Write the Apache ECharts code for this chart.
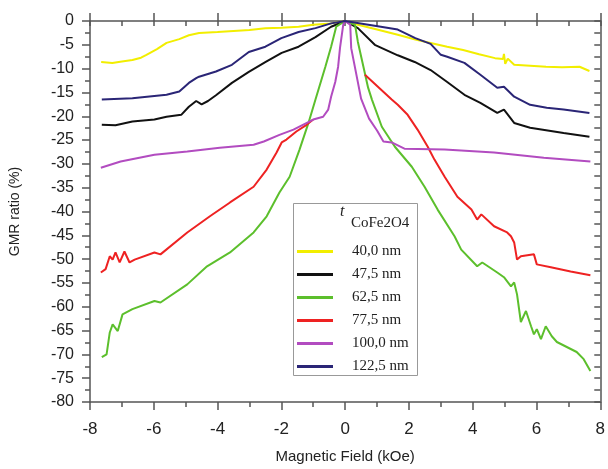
<!DOCTYPE html>
<html>
<head>
<meta charset="utf-8">
<script src="https://cdn.jsdelivr.net/npm/echarts@6/dist/echarts.min.js"></script>
<style>html,body{margin:0;padding:0;background:#fff}#c{width:608px;height:469px}</style>
</head>
<body>
<div id="c"></div>
<script>
var seriesNames = ['40,0 nm', '47,5 nm', '62,5 nm', '77,5 nm', '100,0 nm', '122,5 nm'];
var xTicks = [-8, -6, -4, -2, 0, 2, 4, 6, 8];
var yTicks = [0, -5, -10, -15, -20, -25, -30, -35, -40, -45, -50, -55, -60, -65, -70, -75, -80];

var yellow40 = [[-7.65,-8.6],[-7.3,-8.8],[-7.0,-8.5],[-6.67,-8.2],[-6.4,-7.7],[-6.23,-7.1],[-5.9,-5.9],[-5.6,-4.6],[-5.2,-3.8],[-4.9,-3.0],[-4.58,-2.5],[-4.0,-2.3],[-3.5,-2.1],[-3.0,-1.9],[-2.5,-1.5],[-2.0,-1.4],[-1.46,-1.2],[-1.0,-0.8],[-0.44,-0.5],[0,0],[0.4,-0.8],[1.0,-1.8],[1.65,-2.9],[2.2,-3.9],[2.68,-4.6],[3.2,-5.4],[3.7,-6.1],[4.2,-7.0],[4.7,-7.8],[4.95,-8.0],[4.98,-6.9],[5.02,-9.0],[5.1,-7.9],[5.3,-9.2],[5.8,-9.4],[6.3,-9.6],[6.8,-9.7],[7.35,-9.6],[7.66,-10.5]];
var black47 = [[-7.63,-21.8],[-7.2,-21.9],[-6.67,-21.1],[-5.98,-20.7],[-5.6,-20.1],[-5.14,-19.7],[-4.9,-18.0],[-4.67,-16.8],[-4.5,-17.5],[-4.3,-16.8],[-4.05,-15.6],[-3.55,-13.0],[-3.02,-10.7],[-2.49,-8.6],[-1.99,-6.7],[-1.46,-5.4],[-0.93,-3.4],[-0.44,-1.2],[0,0],[0.4,-1.5],[0.93,-5.0],[1.65,-7.2],[2.18,-8.6],[2.68,-10.3],[3.2,-12.8],[3.74,-15.5],[4.24,-17.2],[4.77,-19.3],[4.98,-18.6],[5.3,-21.4],[5.8,-22.4],[6.85,-23.5],[7.66,-24.3]];
var green62 = [[-7.63,-70.6],[-7.48,-70.0],[-7.38,-65.4],[-7.29,-63.7],[-7.13,-65.1],[-6.98,-61.6],[-6.67,-60.5],[-5.98,-58.8],[-5.79,-59.1],[-4.95,-55.3],[-4.33,-51.5],[-3.61,-48.6],[-2.87,-44.4],[-2.46,-41.0],[-2.06,-36.0],[-1.74,-32.7],[-1.43,-27.0],[-1.15,-21.4],[-0.93,-16.5],[-0.62,-9.6],[-0.44,-5.4],[-0.28,-1.2],[0,0],[0.31,-0.8],[0.4,-4.4],[0.72,-14.0],[0.84,-16.5],[1.15,-22.2],[1.56,-26.4],[2.09,-30.6],[2.49,-34.8],[2.9,-39.6],[3.43,-45.2],[3.64,-48.0],[4.14,-51.5],[4.3,-50.7],[4.77,-52.8],[4.98,-53.8],[5.2,-55.7],[5.3,-54.9],[5.39,-57.4],[5.51,-63.2],[5.67,-60.9],[5.83,-64.1],[5.92,-65.8],[6.01,-64.7],[6.14,-66.8],[6.29,-64.1],[6.48,-66.2],[6.64,-67.4],[7.26,-69.5],[7.48,-71.0],[7.69,-73.5]];
var red77Left = [[-7.66,-52.8],[-7.51,-52.1],[-7.38,-49.4],[-7.29,-50.1],[-7.2,-48.6],[-7.07,-50.7],[-6.92,-48.4],[-6.76,-50.7],[-6.6,-50.1],[-5.98,-48.6],[-5.79,-49.0],[-4.95,-44.4],[-4.24,-41.0],[-3.61,-38.1],[-2.87,-34.8],[-2.46,-31.2],[-2.15,-27.6],[-1.99,-25.5],[-1.84,-24.9],[-1.53,-23.2],[-1.21,-21.8],[-1.0,-20.7]];
var red77Right = [[0.62,-11.3],[1.46,-16.5],[1.65,-17.6],[1.96,-19.7],[2.27,-22.8],[2.59,-26.4],[2.8,-29.1],[3.12,-32.7],[3.52,-36.9],[3.96,-39.6],[4.14,-41.7],[4.27,-40.6],[4.67,-43.1],[5.08,-44.4],[5.2,-45.2],[5.3,-46.5],[5.39,-50.1],[5.51,-49.4],[5.92,-49.0],[6.01,-51.1],[6.45,-51.7],[7.07,-52.6],[7.69,-53.4]];
var purple100 = [[-7.66,-30.8],[-7.04,-29.5],[-5.98,-28.1],[-4.95,-27.4],[-3.93,-26.6],[-2.87,-26.0],[-2.55,-25.3],[-2.06,-23.9],[-1.62,-22.8],[-1.0,-20.7],[-0.69,-20.1],[-0.53,-18.6],[-0.44,-15.9],[-0.31,-12.8],[-0.22,-9.6],[-0.16,-5.6],[-0.06,-0.8],[0,0],[0.16,-0.8],[0.19,-5.7],[0.5,-16.3],[0.75,-20.5],[1.0,-23.0],[1.2,-25.3],[1.46,-25.5],[1.86,-26.8],[3.12,-27.0],[4.67,-27.6],[6.23,-28.7],[7.69,-29.5]];
var blue122 = [[-7.63,-16.5],[-6.67,-16.2],[-5.6,-15.5],[-5.2,-14.8],[-4.9,-13.0],[-4.67,-12.0],[-4.58,-11.7],[-4.05,-10.6],[-3.55,-9.2],[-3.02,-6.5],[-2.5,-5.4],[-2.0,-3.6],[-1.46,-2.3],[-0.93,-1.5],[-0.44,-0.5],[0,0],[0.19,-0.2],[1.12,-1.2],[1.65,-1.8],[2.2,-3.6],[2.68,-4.8],[3.0,-7.1],[3.2,-7.5],[3.74,-8.8],[4.24,-11.3],[4.77,-14.0],[4.98,-13.8],[5.3,-15.9],[5.8,-17.6],[6.32,-18.2],[6.85,-18.6],[7.66,-19.3]];

var colors = ['#f2ee00', '#111111', '#5cbf2c', '#ee2222', '#b24cc0', '#2a2576'];
var sansFont = '"Liberation Sans", Arial, sans-serif';
var serifFont = '"Liberation Serif", "Times New Roman", serif';
var axisColor = '#555';

function mkSeries(name, data, color) {
  return {
    type: 'line', name: name, data: data, symbol: 'none', showSymbol: false,
    lineStyle: {color: color, width: 2}, itemStyle: {color: color},
    xAxisIndex: 0, yAxisIndex: 0, animation: false
  };
}

var chart = echarts.init(document.getElementById('c'));
chart.setOption({
  animation: false,
  backgroundColor: '#fff',
  grid: {left: 90, right: 4, top: 21, bottom: 66, containLabel: false},
  xAxis: [
    {
      type: 'value', position: 'bottom', min: xTicks[0], max: xTicks[xTicks.length - 1], interval: 2,
      name: 'Magnetic Field (kOe)', nameLocation: 'middle', nameGap: 47,
      nameTextStyle: {fontFamily: sansFont, fontSize: 15, color: '#222'},
      axisLine: {show: true, onZero: false, lineStyle: {color: axisColor, width: 1.5}},
      axisTick: {show: true, inside: false, length: 8, lineStyle: {color: axisColor, width: 1.5}},
      minorTick: {show: true, splitNumber: 2, length: 5, lineStyle: {color: axisColor, width: 1.5}},
      axisLabel: {fontFamily: sansFont, fontSize: 17, color: '#222', margin: 19},
      splitLine: {show: false}
    },
    {
      type: 'value', position: 'top', min: -8, max: 8, interval: 2,
      axisLine: {show: true, onZero: false, lineStyle: {color: axisColor, width: 1.5}},
      axisTick: {show: true, inside: false, length: 8, lineStyle: {color: axisColor, width: 1.5}},
      axisLabel: {show: false}, splitLine: {show: false}
    },
    {
      type: 'value', position: 'top', min: -8, max: 8, interval: 1,
      axisLine: {show: false, onZero: false},
      axisTick: {show: true, inside: true, length: 5, lineStyle: {color: axisColor, width: 1.5}},
      axisLabel: {show: false}, splitLine: {show: false}
    }
  ],
  yAxis: [
    {
      type: 'value', position: 'left', min: yTicks[yTicks.length - 1], max: yTicks[0], interval: 5,
      name: 'GMR ratio (%)', nameLocation: 'middle', nameGap: 68, nameRotate: 90,
      nameTextStyle: {fontFamily: sansFont, fontSize: 14, color: '#222'},
      axisLine: {show: true, onZero: false, lineStyle: {color: axisColor, width: 1.5}},
      axisTick: {show: true, inside: false, length: 8, lineStyle: {color: axisColor, width: 1.5}},
      minorTick: {show: true, splitNumber: 2, length: 5, lineStyle: {color: axisColor, width: 1.5}},
      axisLabel: {fontFamily: sansFont, fontSize: 16, color: '#222', margin: 16},
      splitLine: {show: false}
    },
    {
      type: 'value', position: 'right', min: -80, max: 0, interval: 2.5,
      axisLine: {show: true, onZero: false, lineStyle: {color: axisColor, width: 1.5}},
      axisTick: {show: true, inside: true, length: 6, lineStyle: {color: axisColor, width: 1.5}},
      axisLabel: {show: false}, splitLine: {show: false}
    }
  ],
  legend: {
    data: seriesNames.map(function (n) { return {name: n, icon: 'rect'}; }),
    orient: 'vertical', left: 297, top: 242, z: 20,
    itemWidth: 36, itemHeight: 3, itemGap: 4, padding: 0,
    textStyle: {fontFamily: serifFont, fontSize: 15, lineHeight: 16, color: '#222', padding: [0, 0, 3, 14]}
  },
  graphic: [
    {type: 'rect', left: 293, top: 203, z: 15, shape: {width: 124, height: 172},
     style: {fill: '#fff', stroke: '#999', lineWidth: 1}},
    {type: 'text', left: 340, top: 204, z: 16,
     style: {text: 't', font: 'italic 16px ' + serifFont, fill: '#222'}},
    {type: 'text', left: 351, top: 216, z: 16,
     style: {text: 'CoFe2O4', font: '15px ' + serifFont, fill: '#222'}}
  ],
  series: [
    mkSeries(seriesNames[0], yellow40, colors[0]),
    mkSeries(seriesNames[1], black47, colors[1]),
    mkSeries(seriesNames[2], green62, colors[2]),
    mkSeries(seriesNames[3], red77Left, colors[3]),
    mkSeries(seriesNames[3], red77Right, colors[3]),
    mkSeries(seriesNames[4], purple100, colors[4]),
    mkSeries(seriesNames[5], blue122, colors[5])
  ]
});
</script>
</body>
</html>
